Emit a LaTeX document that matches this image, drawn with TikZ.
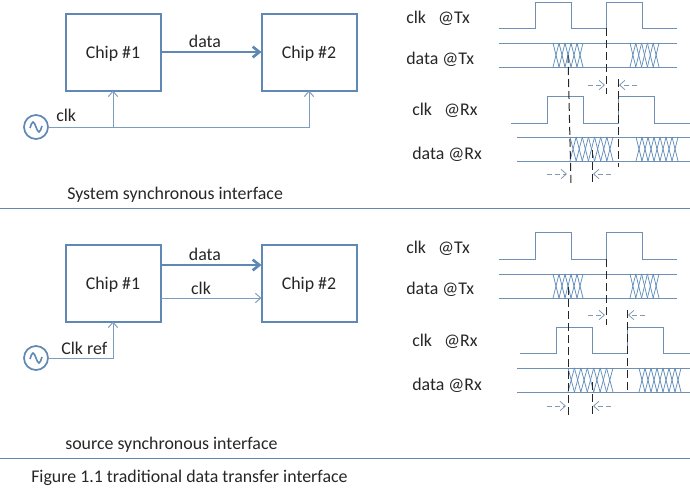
\documentclass[tikz,border=0pt]{standalone}
\usepackage{fontspec}
\setmainfont{Carlito}
\usetikzlibrary{arrows.meta}
\definecolor{boxblue}{HTML}{5F88B4}
\definecolor{wireblue}{HTML}{7E9BC0}
\definecolor{sigblue}{HTML}{6F90B2}
\definecolor{hatchblue}{HTML}{5F8CBA}
\definecolor{markgray}{HTML}{8298B5}
\begin{document}
\begin{tikzpicture}[
    x=0.75pt, y=-0.75pt,
    chip/.style={rectangle, draw=boxblue, line width=1.5pt, minimum width=71.25pt, minimum height=57.75pt, inner sep=0pt, outer sep=0pt, text=black!85, text height=9pt, text depth=0pt, font=\fontsize{13.4}{16}\selectfont},
    osc/.style={circle, draw=boxblue, line width=1.3pt, fill=white, minimum size=18pt, inner sep=0pt, outer sep=0pt},
    sine/.style={draw=boxblue, line width=1.2pt},
    label/.style={anchor=base west, inner sep=0pt, text=black!85, font=\fontsize{13.4}{16}\selectfont},
    tag/.style={label, anchor=base},
    bus/.style={-{Straight Barb[length=5pt,width=8pt]},boxblue,line width=2pt},
    wire/.style={wireblue,line width=0.75pt},
    wirearrow/.style={wire,-{Straight Barb[length=4pt,width=7pt]}},
    sig/.style={sigblue,line width=0.7pt},
    hatch/.style={hatchblue,line width=0.55pt},
    edge/.style={black!85,line width=0.75pt,dash pattern=on 6pt off 3pt},
    gap/.style={markgray,line width=0.6pt,dash pattern=on 3.5pt off 2.5pt,-{Straight Barb[length=4pt,width=7pt]}},
    rule/.style={boxblue,line width=0.7pt}
]
\useasboundingbox (0,0) rectangle (690,497);

% System synchronous: chips
\node[chip] (sys_a) at (113,52) {Chip \#1};
\node[chip] (sys_b) at (309,52) {Chip \#2};
\node[osc] (osc_sys) at (36,127) {};
\draw[bus] (sys_a.east) -- (sys_b.west);
\node[tag] (sys_data) at (205,47) {data};
\draw[wirearrow] (osc_sys.east) -| (sys_b.south);
\draw[wirearrow] (osc_sys.east -| sys_a.south) -- (sys_a.south);
\node[label] (sys_clk) at (56,121) {clk};
\node[label] (sys_title) at (67,199) {System synchronous interface};

% Source synchronous: chips
\node[chip] (src_a) at (113,283) {Chip \#1};
\node[chip] (src_b) at (309,283) {Chip \#2};
\node[osc] (osc_src) at (36,358) {};
\coordinate (data_y) at (0,265);
\coordinate (clk_y) at (0,298);
\draw[bus] (src_a.east |- data_y) -- (src_b.west |- data_y);
\node[tag] (src_data) at (205,260) {data};
\draw[wirearrow] (src_a.east |- clk_y) -- (src_b.west |- clk_y);
\node[tag] (src_clk) at (201,294) {clk};
\draw[wirearrow] (osc_src.east) -| (src_a.south);
\node[label] (src_ref) at (61,354) {Clk ref};
\node[label] (src_title) at (65,449) {source synchronous interface};

% Oscillator glyphs
\foreach \n in {osc_sys,osc_src} {
    \draw[sine] (\n.center) ++(-6,1) sin ++(3,-6) cos ++(3,5) sin ++(3,5) cos ++(3,-6);
}

% Separators and caption
\coordinate (rule_l) at (0,208);
\coordinate (rule_r) at (690,208);
\coordinate (cap_l) at (0,458);
\coordinate (cap_r) at (690,458);
\draw[rule] (rule_l) -- (rule_r);
\draw[rule] (cap_l) -- (cap_r);
\node[label] (caption) at (31,482) {Figure 1.1 traditional data transfer interface};

% Timing labels
\foreach \x/\y/\name/\txt in {
    406/23/ta/{clk\ \ \ @Tx}, 406/64/tb/{data @Tx}, 412/115/tc/{clk\ \ \ @Rx}, 412/159/td/{data @Rx},
    406/253/te/{clk\ \ \ @Tx}, 406/294/tf/{data @Tx}, 412/346/tg/{clk\ \ \ @Rx}, 412/390/th/{data @Rx}} {
    \node[label] (\name) at (\x,\y) {\txt};
}

% Clock waveforms
\draw[sig] (499,28) -- (535,28) -- (535,2) -- (571,2) -- (571,28) -- (606,28) -- (606,2) -- (642,2) -- (642,28) -- (677,28);
\draw[sig] (511,123) -- (547,123) -- (547,96) -- (583,96) -- (583,123) -- (618,123) -- (618,96) -- (654,96) -- (654,123) -- (690,123);
\draw[sig] (499,259) -- (535,259) -- (535,232) -- (571,232) -- (571,259) -- (606,259) -- (606,232) -- (642,232) -- (642,259) -- (677,259);
\draw[sig] (520,353) -- (556,353) -- (556,327) -- (592,327) -- (592,353) -- (627,353) -- (627,327) -- (663,327) -- (663,353) -- (690,353);

% Data rails
\foreach \xa/\xb/\ya/\yb in {499/677/43/67, 517/690/137/161, 499/677/274/298, 517/690/368/392} {
    \draw[sig] (\xa,\ya) -- (\xb,\ya);
    \draw[sig] (\xa,\yb) -- (\xb,\yb);
}

% Data transition hatching
\foreach \xa/\xb/\ya/\yb/\cells in {
    553/583/43/67/5, 630/659/43/67/5,
    570/613/137/161/7, 636/678/137/161/7,
    553/583/274/298/5, 630/659/274/298/5,
    568/613/368/392/7, 639/681/368/392/7} {
    \pgfmathsetmacro{\w}{(\xb-\xa)/\cells}
    \foreach \i in {1,...,\cells} {
        \draw[hatch] ({\xa+(\i-1)*\w},\ya) -- ({\xa+\i*\w},\yb);
        \draw[hatch] ({\xa+(\i-1)*\w},\yb) -- ({\xa+\i*\w},\ya);
    }
}

% Dashed edge markers
\draw[edge] (568,55) -- (571,185);
\draw[edge] (606,28) -- (606,94);
\draw[edge] (618,79) -- (618,167);
\draw[edge] (592,150) -- (592,184);
\draw[edge] (568,287) -- (568,415);
\draw[edge] (606,259) -- (606,325);
\draw[edge] (627,310) -- (627,391);
\draw[edge] (592,382) -- (592,415);

% Timing gaps
\foreach \xa/\xb/\y in {588/605/85, 637/619/85, 547/567/174, 611/593/174, 588/605/315, 645/628/315, 547/566/406, 611/593/406} {
    \draw[gap] (\xa,\y) -- (\xb,\y);
}

\end{tikzpicture}
\end{document}
